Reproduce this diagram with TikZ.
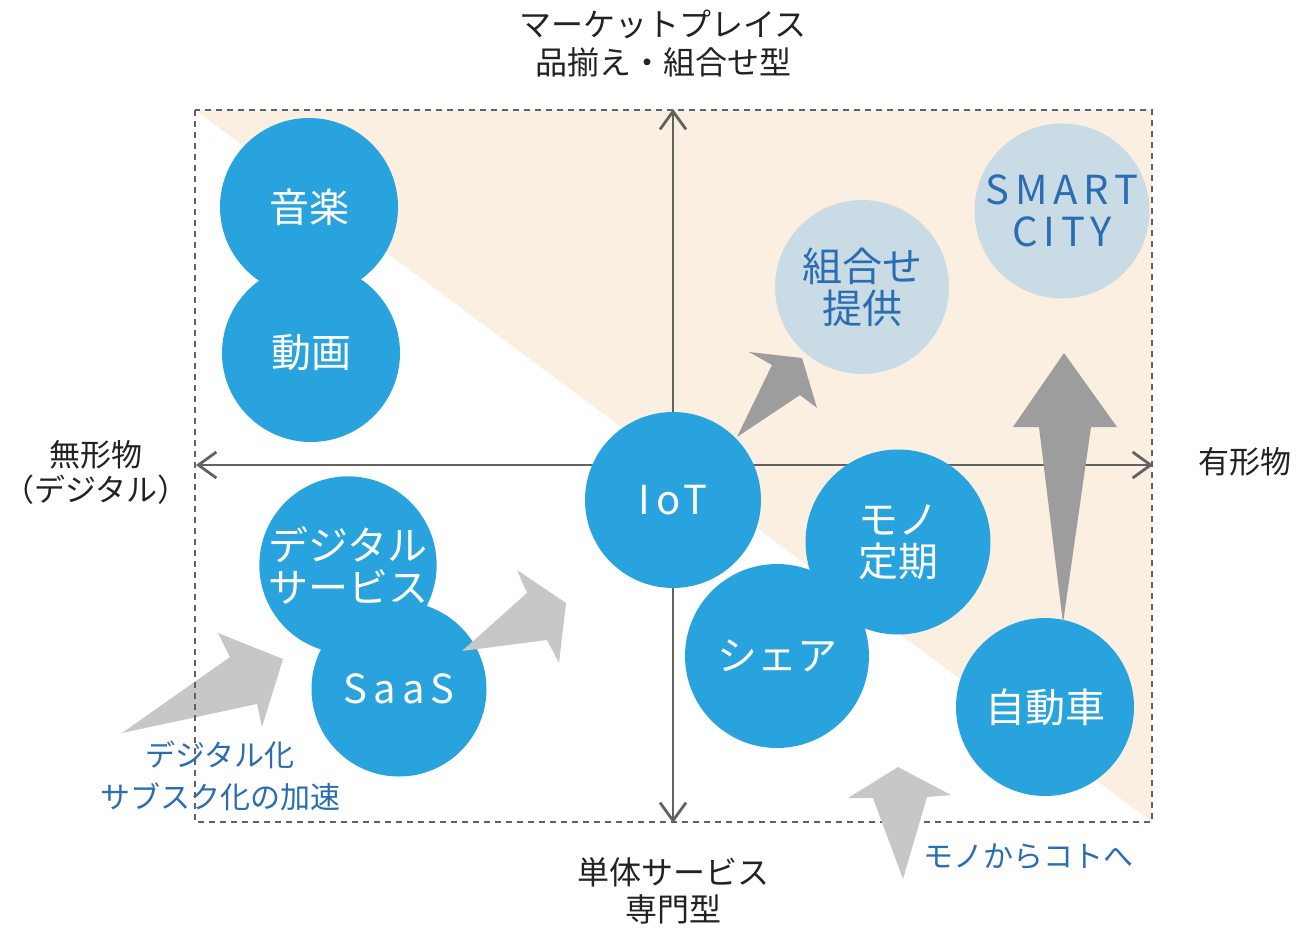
\documentclass[tikz,border=0pt]{standalone}
\usepackage{fontspec}
\setmainfont{Noto Sans CJK JP}
\newfontfamily\latinsp[LetterSpace=15]{Noto Sans CJK JP}
\usetikzlibrary{arrows.meta}
\definecolor{cblue}{HTML}{29A3DD}
\definecolor{clight}{HTML}{C9DCE5}
\definecolor{peach}{HTML}{FBEFE1}
\definecolor{adark}{HTML}{9D9D9D}
\definecolor{alight}{HTML}{C7C7C7}
\definecolor{axisgray}{HTML}{626262}
\definecolor{tblue}{HTML}{2A6DB3}
\definecolor{tblack}{HTML}{222222}
\begin{document}
\begin{tikzpicture}[x=1pt,y=-1pt,
  bub/.style={circle, fill=cblue, minimum size=#1, inner sep=0pt, text=white,
    font=\fontsize{40}{42}\selectfont, align=center},
  lbub/.style={circle, fill=clight, minimum size=#1, inner sep=0pt, text=tblue,
    font=\fontsize{40}{42}\selectfont, align=center},
  lbl/.style={text=tblack, align=center, inner sep=0pt},
  bluelbl/.style={text=tblue, align=center, inner sep=0pt, font=\fontsize{30}{42}\selectfont},
  axisline/.style={draw=axisgray, line width=2.8pt,
    {Straight Barb[length=18pt,width=26pt]}-{Straight Barb[length=18pt,width=26pt]}},
  bigarrowdark/.style={fill=adark},
  bigarrowlight/.style={fill=alight},
  frame/.style={draw=axisgray, line width=2.6pt, dash pattern=on 6pt off 5pt}
]
\useasboundingbox (0,0) rectangle (1296,927);

% background triangle
\fill[peach] (195,110) -- (1152,110) -- (1152,822) -- cycle;

% axes
\coordinate (xl) at (196,465);
\coordinate (xr) at (1153,465);
\coordinate (yt) at (673,109);
\coordinate (yb) at (673,823);
\draw[axisline] (xl) -- (xr);
\draw[axisline] (yb) -- (yt);

% circles
\node[bub=178pt] (ongaku) at (309,207) {音楽};
\node[bub=178pt] (douga) at (311,353) {動画};
\node[bub=174pt] (digi) at (348,565) {デジタル\\サービス};
\node[bub=175pt] (saas) at (399,689) {\latinsp SaaS};
\node[bub=176pt] (iot) at (673,500) {\latinsp IoT};
\node[bub=185pt] (teiki) at (898,542) {モノ\\定期};
\node[bub=184pt] (share) at (777,656) {シェア};
\node[bub=178pt] (car) at (1045,707) {自動車};
\node[lbub=174pt] (kumi) at (862,287) {組合せ\\提供};
\node[lbub=175pt] (smart) at (1062,211) {\latinsp SMART\\\latinsp CITY};

% block arrows
\fill[bigarrowlight] (122,733) -- (230,657) -- (218,633) -- (283,659) -- (262,727) -- (257,704) -- cycle;
\fill[bigarrowlight] (462,651) -- (527,593) -- (517,570) -- (566,603) -- (559,663) -- (547,640) -- cycle;
\fill[bigarrowdark] (737,437) -- (772,365) -- (749,352) -- (802,358) -- (817,408) -- (800,395) -- cycle;
\fill[bigarrowdark] (1063,623) -- (1039,427) -- (1013,427) -- (1064,353) -- (1117,427) -- (1091,427) -- cycle;

% labels
\node[lbl, font=\fontsize{32}{38}\selectfont] (top) at (663,44) {マーケットプレイス\\品揃え・組合せ型};
\node[lbl, font=\fontsize{32}{37}\selectfont] (bottom) at (673,891) {単体サービス\\専門型};
\node[lbl, font=\fontsize{31}{35}\selectfont] (left) at (96,472) {無形物\\（デジタル）};
\node[lbl, font=\fontsize{31}{35}\selectfont] (right) at (1245,462) {有形物};
\node[bluelbl] (digilbl) at (220,776) {デジタル化\\サブスク化の加速};

% frame
\draw[frame] (195,110) rectangle (1152,822);

\fill[bigarrowlight] (903,879) -- (873,798) -- (848,798) -- (898,767) -- (951,795) -- (927,797) -- cycle;
\node[bluelbl] (monolbl) at (1028,857) {モノからコトへ};
\end{tikzpicture}
\end{document}
